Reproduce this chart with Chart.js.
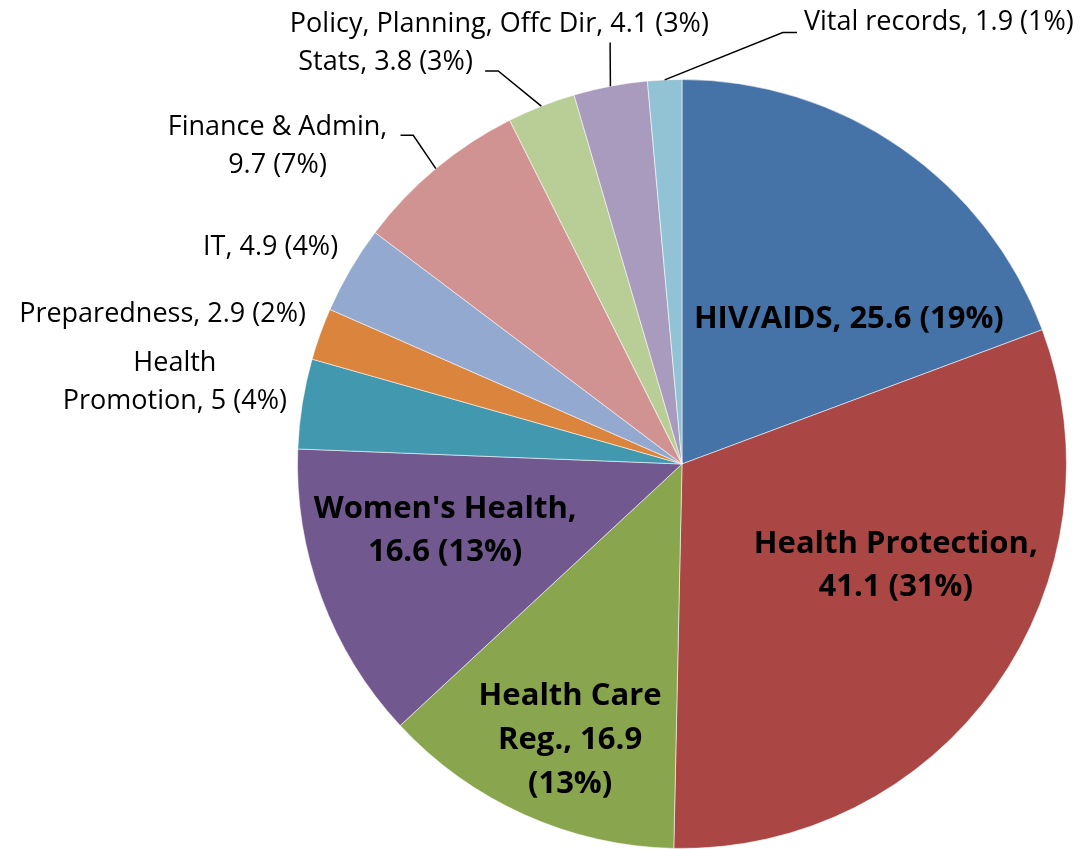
<!DOCTYPE html>
<html><head><meta charset="utf-8">
<script src="https://cdn.jsdelivr.net/npm/chart.js@4"></script>
<style>html,body{margin:0;padding:0;background:#fff}canvas{display:block}</style>
</head><body>
<canvas id="c" width="1087" height="849"></canvas>
<script>
const categories = ["HIV/AIDS","Health Protection","Health Care Reg.","Women's Health","Health Promotion","Preparedness","IT","Finance & Admin","Stats","Policy, Planning, Offc Dir","Vital records"];
const values = [25.6,41.1,16.9,16.6,5,2.9,4.9,9.7,3.8,4.1,1.9];
const percents = [19,31,13,13,4,2,4,7,3,3,1];
const labelLines = [
  ["HIV/AIDS, 25.6 (19%)"],
  ["Health Protection,","41.1 (31%)"],
  ["Health Care","Reg., 16.9","(13%)"],
  ["Women's Health,","16.6 (13%)"],
  ["Health","Promotion, 5 (4%)"],
  ["Preparedness, 2.9 (2%)"],
  ["IT, 4.9 (4%)"],
  ["Finance & Admin,","9.7 (7%)"],
  ["Stats, 3.8 (3%)"],
  ["Policy, Planning, Offc Dir, 4.1 (3%)"],
  ["Vital records, 1.9 (1%)"]
];
const colors = ["#4572A7","#AA4643","#89A54E","#71588F","#4198AF","#DB843D","#93A9CF","#D19392","#B9CD96","#A99BBD","#92C3D4"];

// label layout (relative to pie centre, in units of radius)
const layout = [
  {x:0.434,y:-0.377,bold:true,lh:43},
  {x:0.556,y:0.265,bold:true,lh:43},
  {x:-0.291,y:0.719,bold:true,lh:44},
  {x:-0.616,y:0.174,bold:true,lh:43},
  {x:-1.319,y:-0.213,lh:38},
  {x:-1.351,y:-0.390,lh:38},
  {x:-1.070,y:-0.564,lh:38},
  {x:-1.052,y:-0.826,lh:38,leader:[[-0.699,-0.855],[-0.732,-0.855]]},
  {x:-0.771,y:-1.044,lh:38,leader:[[-0.478,-1.022],[-0.512,-1.022]]},
  {x:-0.475,y:-1.143,lh:38,leader:[[-0.187,-1.096]]},
  {x:0.668,y:-1.148,lh:38,leader:[[0.262,-1.122],[0.299,-1.122]]}
];

const labelPlugin = {
  id:'pieLabels',
  afterDatasetsDraw(chart){
    const ctx = chart.ctx;
    const meta = chart.getDatasetMeta(0);
    meta.data.forEach((arc,i)=>{
      const {x:cx,y:cy,outerRadius:r,startAngle,endAngle} = arc.getProps(['x','y','outerRadius','startAngle','endAngle'],true);
      const L = layout[i];
      const mid = (startAngle+endAngle)/2;
      ctx.save();
      if (L.leader){
        ctx.strokeStyle = '#000';
        ctx.lineWidth = 1.5;
        ctx.beginPath();
        ctx.moveTo(cx + r*Math.cos(mid), cy + r*Math.sin(mid));
        L.leader.forEach(p=>ctx.lineTo(cx+p[0]*r, cy+p[1]*r));
        ctx.stroke();
      }
      ctx.fillStyle = '#000';
      ctx.font = (L.bold ? 'bold 31px' : '27px') + ' "Open Sans", Lato, sans-serif';
      ctx.textAlign = 'center';
      ctx.textBaseline = 'middle';
      const lines = labelLines[i];
      const tx = cx + L.x*r, ty = cy + L.y*r;
      const y0 = ty - (lines.length-1)*L.lh/2;
      lines.forEach((t,k)=>ctx.fillText(t, tx, y0 + k*L.lh));
      ctx.restore();
    });
  }
};

new Chart(document.getElementById('c'), {
  type:'pie',
  data:{labels:categories, datasets:[{data:values, backgroundColor:colors, borderColor:'rgba(255,255,255,0.55)', borderWidth:1}]},
  options:{
    responsive:false, animation:false,
    layout:{padding:{left:297,right:20,top:79,bottom:0}},
    plugins:{legend:{display:false},tooltip:{enabled:false}}
  },
  plugins:[labelPlugin]
});
</script>
</body></html>
